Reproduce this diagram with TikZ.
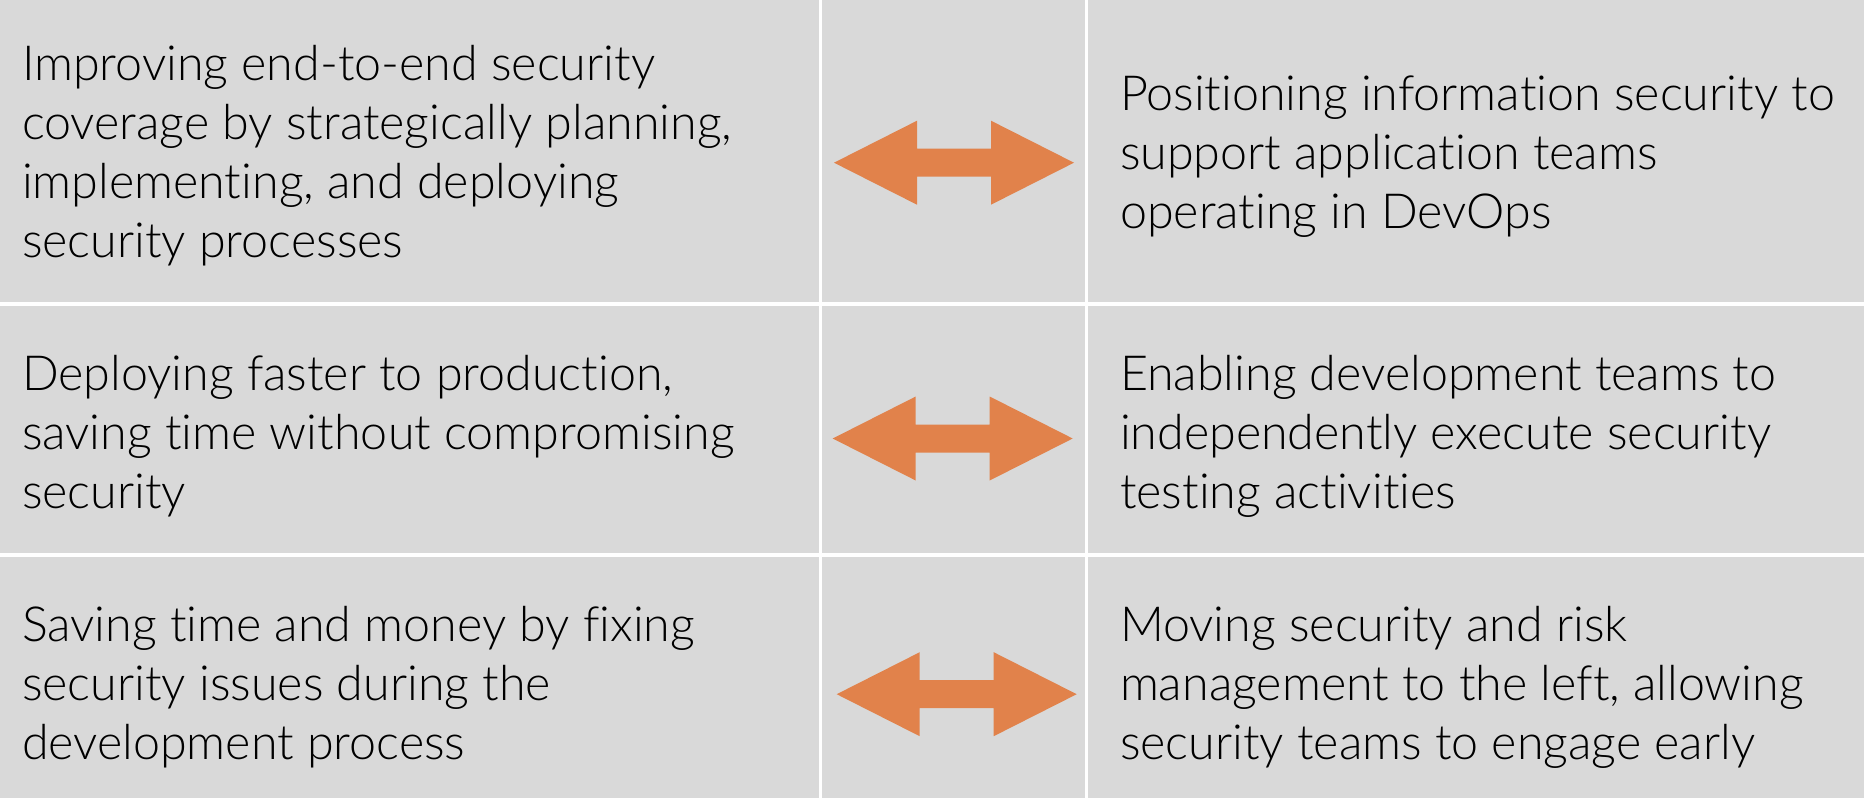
\documentclass[tikz,border=0pt]{standalone}
\usepackage{fontspec}
\setmainfont{Lato Light}[Ligatures=NoCommon]
\definecolor{cellgray}{RGB}{217,217,217}
\definecolor{arroworange}{RGB}{225,130,75}
\tikzset{
  celltext/.style={anchor=base west, inner sep=0pt, outer sep=0pt},
  sepline/.style={fill=white},
  dblarrow/.pic={\fill[arroworange] (-120,0) -- (-37,42) -- (-37,14) -- (37,14) -- (37,42) -- (120,0) -- (37,-42) -- (37,-14) -- (-37,-14) -- (-37,-42) -- cycle;}
}
\newcommand{\celltxt}[1]{\parbox[t]{760pt}{\fontsize{48.4pt}{59pt}\selectfont\raggedright #1}}
\begin{document}
\begin{tikzpicture}[x=1pt,y=-1pt]
\useasboundingbox (0,0) rectangle (1864,798);
\fill[cellgray] (0,0) rectangle (1864,798);
% grid lines
\fill[sepline] (819,0) rectangle (821.5,798);
\fill[sepline] (1085.3,0) rectangle (1087.7,798);
\fill[sepline] (0,302) rectangle (1864,305.7);
\fill[sepline] (0,553.3) rectangle (1864,557.3);
% texts
\node[celltext] (l1) at (22,80) {\celltxt{Improving end-to-end security\\coverage by strategically planning,\\implementing, and deploying\\security processes}};
\node[celltext] (r1) at (1120,110) {\celltxt{Positioning information security to\\support application teams\\operating in DevOps}};
\node[celltext] (l2) at (22,390) {\celltxt{Deploying faster to production,\\saving time without compromising\\security}};
\node[celltext] (r2) at (1120,390) {\celltxt{Enabling development teams to\\independently execute security\\testing activities}};
\node[celltext] (l3) at (22,641.7) {\celltxt{Saving time and money by fixing\\security issues during the\\development process}};
\node[celltext] (r3) at (1120,641.7) {\celltxt{Moving security and risk\\management to the left, allowing\\security teams to engage early}};
% arrows
\pic at (954,162.7) {dblarrow};
\pic at (952.7,438.5) {dblarrow};
\pic at (956.7,694.2) {dblarrow};
\end{tikzpicture}
\end{document}
